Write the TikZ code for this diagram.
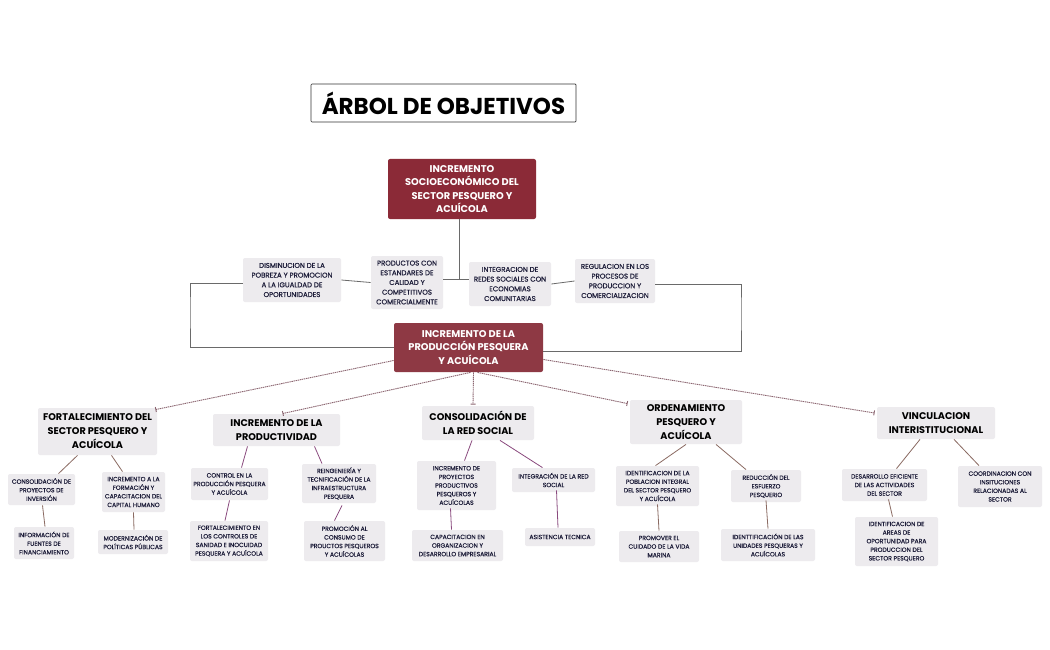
\documentclass[tikz,border=0pt]{standalone}
\usepackage{fontspec}
\setmainfont{Poppins}
\newfontfamily\boxfont[FakeBold=0.6]{Poppins}
\usetikzlibrary{arrows.meta}

\definecolor{topred}{HTML}{8B2A37}
\definecolor{midred}{HTML}{8E3944}
\definecolor{boxgray}{HTML}{EDEBEE}
\definecolor{inktext}{HTML}{1E1E3A}
\definecolor{linkgray}{HTML}{6A6A6A}
\definecolor{dashbrown}{HTML}{8B6570}
\definecolor{brownlink}{HTML}{8A6A62}
\definecolor{purplelink}{HTML}{8A4A7E}

\tikzset{every path/.style={line width=0.8pt}}
\tikzset{
  redbox/.style={fill=#1, rounded corners=2pt, text=white, align=center,
    font=\fontsize{9.8}{13.5}\selectfont\bfseries, inner sep=0pt},
  headbox/.style={fill=boxgray, rounded corners=2pt, text=black, align=center,
    font=\fontsize{9.7}{14}\selectfont\bfseries, inner sep=0pt},
  midbox/.style={fill=boxgray, rounded corners=2pt, text=inktext, align=center,
    font=\boxfont\fontsize{7}{9.7}\selectfont, inner sep=0pt},
  leafbox/.style={fill=boxgray, rounded corners=2pt, text=inktext, align=center,
    font=\boxfont\fontsize{6.1}{8.6}\selectfont, inner sep=0pt},
  graylink/.style={draw=linkgray},
  branchlink/.style={draw=dashbrown, line width=0.9pt, dash pattern=on 1.4pt off 0.7pt,
    -{Bar[width=5pt,line width=0.9pt]}},
  leaflink/.style={draw=#1}
}

\begin{document}
\begin{tikzpicture}[x=1pt,y=-1pt]
\useasboundingbox[fill=white] (0,0) rectangle (1050,650);

% title
\node[draw=black!80, line width=0.7pt, rounded corners=1pt, minimum width=265pt, minimum height=38pt,
  font=\fontsize{23}{26}\selectfont\bfseries] (title) at (443.5,103) {ÁRBOL DE OBJETIVOS};

% top and centre
\node[redbox=topred, minimum width=148pt, minimum height=60pt] (top) at (462,189)
  {INCREMENTO\\SOCIOECONÓMICO DEL\\SECTOR PESQUERO Y\\ACUÍCOLA};
\node[redbox=midred, minimum width=149pt, minimum height=49pt] (cen) at (468.5,347.5)
  {INCREMENTO DE LA\\PRODUCCIÓN PESQUERA\\Y ACUÍCOLA};

% second row
\node[midbox, minimum width=98pt, minimum height=44pt] (dism) at (292,280)
  {DISMINUCION DE LA\\POBREZA Y PROMOCION\\A LA IGUALDAD DE\\OPORTUNIDADES};
\node[midbox, minimum width=72pt, minimum height=53pt] (prodc) at (407,282.5)
  {PRODUCTOS CON\\ESTANDARES DE\\CALIDAD Y\\COMPETITIVOS\\COMERCIALMENTE};
\node[midbox, minimum width=82pt, minimum height=44pt] (integ) at (510,284)
  {INTEGRACION DE\\REDES SOCIALES CON\\ECONOMIAS\\COMUNITARIAS};
\node[midbox, minimum width=80pt, minimum height=44pt] (regul) at (615,281)
  {REGULACION EN LOS\\PROCESOS DE\\PRODUCCION Y\\COMERCIALIZACION};

\coordinate (joint) at (459,279);
\coordinate (lft) at (190,310);
\coordinate (rgt) at (741,310);
\draw[graylink] (top.south -| joint) -- (joint);
\draw[graylink] (prodc.east |- joint) -- (integ.west |- joint);
\draw[graylink] (dism.east) -- (prodc.west);
\draw[graylink] (integ.east) -- (regul.west);
\draw[graylink] ([yshift=-3pt]dism.west) -| (lft) |- (cen.west);
\draw[graylink] ([yshift=-3pt]regul.east) -| (rgt) |- ([yshift=-4pt]cen.east);

% third row
\node[headbox, minimum width=119pt, minimum height=47pt] (fort) at (97.5,431.5)
  {FORTALECIMIENTO DEL\\SECTOR PESQUERO Y\\ACUÍCOLA};
\node[headbox, minimum width=127pt, minimum height=32pt] (prodv) at (276.5,430)
  {INCREMENTO DE LA\\PRODUCTIVIDAD};
\node[headbox, minimum width=112pt, minimum height=34pt] (redsoc) at (478,423)
  {CONSOLIDACIÓN DE\\LA RED SOCIAL};
\node[headbox, minimum width=112pt, minimum height=44pt] (orden) at (686,422)
  {ORDENAMIENTO\\PESQUERO Y\\ACUÍCOLA};
\node[headbox, minimum width=118pt, minimum height=32pt] (vinc) at (936,423)
  {VINCULACION\\INTERISTITUCIONAL};

\draw[branchlink] ([yshift=-13pt]cen.west) -- ([xshift=-2pt,yshift=-2pt]fort.north east);
\draw[branchlink] ([xshift=2pt]cen.south) -- ([xshift=6pt]prodv.north);
\draw[branchlink] ([xshift=5pt]cen.south) -- ([xshift=-5pt,yshift=1pt]redsoc.north);
\draw[branchlink] ([xshift=9pt]cen.south) -- ([xshift=-2pt,yshift=-4pt]orden.north west);
\draw[branchlink] ([yshift=-12pt]cen.east) -- ([xshift=-2pt,yshift=10pt]vinc.west);

% leaves of fort
\node[leafbox, minimum width=67pt, minimum height=31pt] (inver) at (41.5,489.5)
  {CONSOLIDACIÓN DE\\PROYECTOS DE\\INVERSIÓN};
\node[leafbox, minimum width=63pt, minimum height=40pt] (forma) at (133.5,492)
  {INCREMENTO A LA\\FORMACIÓN Y\\CAPACITACION DEL\\CAPITAL HUMANO};
\node[leafbox, minimum width=60pt, minimum height=32pt] (fuent) at (44,543)
  {INFORMACIÓN DE\\FUENTES DE\\FINANCIAMIENTO};
\node[leafbox, minimum width=70pt, minimum height=24pt] (polit) at (133,542)
  {MODERNIZACIÓN DE\\POLÍTICAS PÚBLICAS};
\draw[leaflink=brownlink] ([xshift=-20pt]fort.south) -- ([xshift=17pt]inver.north);
\draw[leaflink=brownlink] ([xshift=14pt]fort.south) -- ([xshift=-11pt]forma.north);
\draw[leaflink=brownlink] ([xshift=1pt]inver.south) -- ([xshift=1pt]fuent.north);
\draw[leaflink=brownlink] (forma.south) -- ([xshift=1pt]polit.north);

% leaves of prodv
\node[leafbox, minimum width=77pt, minimum height=32pt] (contr) at (229.5,484)
  {CONTROL EN LA\\PRODUCCIÓN PESQUERA\\Y ACUÍCOLA};
\node[leafbox, minimum width=74pt, minimum height=39pt] (reing) at (339,483.5)
  {REINGENIERÍA Y\\TECNIFICACIÓN DE LA\\INFRAESTRUCTURA\\PESQUERA};
\node[leafbox, minimum width=78pt, minimum height=40pt] (sanid) at (229,541)
  {FORTALECIMIENTO EN\\LOS CONTROLES DE\\SANIDAD E INOCUIDAD\\PESQUERA Y ACUÍCOLA};
\node[leafbox, minimum width=81pt, minimum height=40pt] (consu) at (344.5,541)
  {PROMOCIÓN AL\\CONSUMO DE\\PROUCTOS PESQUEROS\\Y ACUÍCOLAS};
\draw[leaflink=purplelink] ([xshift=-29pt]prodv.south) -- ([xshift=12pt]contr.north);
\draw[leaflink=purplelink] ([xshift=38pt]prodv.south) -- ([xshift=-17pt]reing.north);
\draw[leaflink=purplelink] (contr.south) -- ([xshift=-4pt]sanid.north);
\draw[leaflink=purplelink] ([xshift=3pt,yshift=-2pt]reing.south) -- ([xshift=-10pt]consu.north);

% leaves of redsoc
\node[leafbox, minimum width=79pt, minimum height=49pt] (proye) at (456.5,485.5)
  {INCREMENTO DE\\PROYECTOS\\PRODUCTIVOS\\PESQUEROS Y\\ACUÍCOLAS};
\node[leafbox, minimum width=83pt, minimum height=24pt] (integr) at (553.5,480)
  {INTEGRACIÓN DE LA RED\\SOCIAL};
\node[leafbox, minimum width=91pt, minimum height=31pt] (capac) at (457.5,545.5)
  {CAPACITACION EN\\ORGANIZACION Y\\DESARROLLO EMPRESARIAL};
\node[leafbox, minimum width=70pt, minimum height=18pt] (asist) at (560,537)
  {ASISTENCIA TECNICA};
\draw[leaflink=purplelink] ([xshift=-6pt]redsoc.south) -- ([xshift=8pt]proye.north);
\draw[leaflink=purplelink] ([xshift=22pt]redsoc.south) -- ([xshift=-11pt]integr.north);
\draw[leaflink=purplelink] ([xshift=-6pt,yshift=2pt]proye.south) -- ([xshift=-6pt]capac.north);
\draw[leaflink=purplelink] ([xshift=3pt,yshift=2pt]integr.south) -- ([xshift=-2pt]asist.north);

% leaves of orden
\node[leafbox, minimum width=83pt, minimum height=40pt] (pobla) at (657.5,486)
  {IDENTIFICACION DE LA\\POBLACION INTEGRAL\\DEL SECTOR PESQUERO\\Y ACUÍCOLA};
\node[leafbox, minimum width=70pt, minimum height=32pt] (esfue) at (766,486)
  {REDUCCIÓN DEL\\ESFUERZO\\PESQUERIO};
\node[leafbox, minimum width=80pt, minimum height=31pt] (marin) at (659,546.5)
  {PROMOVER EL\\CUIDADO DE LA VIDA\\MARINA};
\node[leafbox, minimum width=94pt, minimum height=32pt] (unida) at (768,545)
  {IDENTTIFICACIÓN DE LAS\\UNIDADES PESQUERAS Y\\ACUÍCOLAS};
\draw[leaflink=brownlink] (orden.south) -- ([xshift=-2pt]pobla.north);
\draw[leaflink=brownlink] ([xshift=30pt]orden.south) -- ([xshift=-20pt]esfue.north);
\draw[leaflink=brownlink] ([yshift=2pt]pobla.south) -- ([xshift=0pt]marin.north);
\draw[leaflink=brownlink] ([yshift=2pt]esfue.south) -- (unida.north);

% leaves of vinc
\node[leafbox, minimum width=85pt, minimum height=32pt] (efici) at (884.5,485)
  {DESARROLLO EFICIENTE\\DE LAS ACTIVIDADES\\DEL SECTOR};
\node[leafbox, minimum width=84pt, minimum height=41pt] (coord) at (1000,486.5)
  {COORDINACION CON\\INSITUCIONES\\RELACIONADAS AL\\SECTOR};
\node[leafbox, minimum width=83pt, minimum height=49pt] (areas) at (896.5,541.5)
  {IDENTIFICACION DE\\AREAS DE\\OPORTUNIDAD PARA\\PRODUCCION DEL\\SECTOR PESQUERO};
\draw[leaflink=brownlink] ([xshift=-16pt]vinc.south) -- ([xshift=12pt]efici.north);
\draw[leaflink=brownlink] ([xshift=18pt]vinc.south) -- ([xshift=-21pt]coord.north);
\draw[leaflink=brownlink] ([xshift=4pt,yshift=2pt]efici.south) -- ([xshift=-4pt]areas.north);
\end{tikzpicture}
\end{document}
